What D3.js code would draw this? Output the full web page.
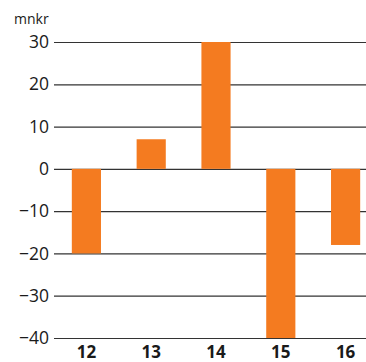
<!DOCTYPE html>
<html>
<head>
<meta charset="utf-8">
<script src="https://cdn.jsdelivr.net/npm/d3@7"></script>
<style>
  html, body { margin: 0; padding: 0; background: #fff; }
  svg { display: block; }
  text { font-family: "Open Sans", "Noto Sans", sans-serif; fill: #1a1a1a; }
</style>
</head>
<body>
<div id="chart"></div>
<script>
// Result per year, mnkr
const years = ["12", "13", "14", "15", "16"];
const values = [-20, 7, 30, -40, -18];
const yTicks = [30, 20, 10, 0, -10, -20, -30, -40];
const unitLabel = "mnkr";

const width = 366, height = 362;

const svg = d3.select("#chart").append("svg")
  .attr("width", width)
  .attr("height", height);

const y = d3.scaleLinear().domain([-40, 30]).range([338, 42]);
const x = d3.scaleBand().domain(years).range([54, 378])
  .paddingInner(0.55).paddingOuter(0.275);

// Horizontal grid lines with labels on the left
const yAxis = d3.axisLeft(y)
  .tickValues(yTicks)
  .tickSize(-(width - 54))
  .tickPadding(5)
  .tickFormat(d => d < 0 ? "\u2212" + Math.abs(d) : String(d));

const gy = svg.append("g")
  .attr("transform", "translate(54,0)")
  .call(yAxis);
gy.select(".domain").remove();
gy.selectAll(".tick line").attr("stroke", "#333").attr("stroke-width", 1.2);
gy.selectAll(".tick text")
  .attr("font-size", 17.5)
  .attr("fill", "#1a1a1a");

// Bars
svg.append("g").selectAll("rect")
  .data(values)
  .join("rect")
  .attr("x", (d, i) => x(years[i]))
  .attr("width", x.bandwidth())
  .attr("y", d => y(Math.max(0, d)))
  .attr("height", d => Math.abs(y(d) - y(0)))
  .attr("fill", "#f47b20");

// Year labels
const xAxis = d3.axisBottom(x).tickSize(0).tickPadding(8);
const gx = svg.append("g")
  .attr("transform", "translate(0,338)")
  .call(xAxis);
gx.select(".domain").remove();
gx.selectAll(".tick text")
  .attr("font-size", 17)
  .attr("font-weight", "bold")
  .attr("fill", "#1a1a1a");

// Unit label
svg.append("text")
  .attr("x", 14)
  .attr("y", 24)
  .attr("font-size", 14)
  .text(unitLabel);
</script>
</body>
</html>
